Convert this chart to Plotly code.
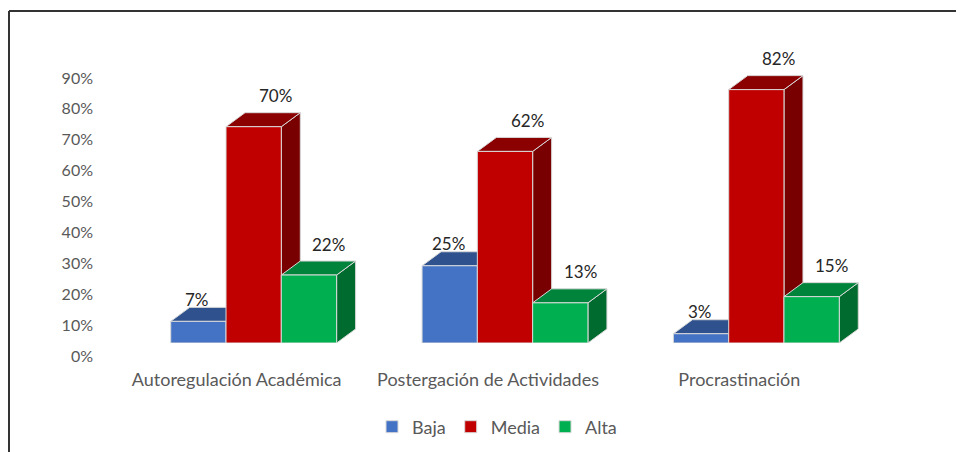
import plotly.graph_objects as go

categories = ["Autoregulación Académica", "Postergación de Actividades", "Procrastinación"]
series_names = ["Baja", "Media", "Alta"]
baja = [0.07, 0.25, 0.03]
media = [0.70, 0.62, 0.82]
alta = [0.22, 0.13, 0.15]
y_ticks = [0.0, 0.1, 0.2, 0.3, 0.4, 0.5, 0.6, 0.7, 0.8, 0.9]

# front, top, side colours per series
colors = {
    "Baja": ("#4472C4", "#2F528F", "#264478"),
    "Media": ("#C00000", "#8B0000", "#780000"),
    "Alta": ("#00B050", "#00843C", "#006B2E"),
}
# label offsets (px) per series, like the Excel data labels
label_dx = {"Baja": -1, "Media": 22, "Alta": 20}
label_dy = {"Baja": 8, "Media": 17, "Alta": 17}

# the page body has an 8px margin, so the figure is drawn 8px smaller
OFF = 8
W, H = 964 - OFF, 452 - OFF
L, R, T, B = 128 - OFF, 82, 40 - OFF, 109
plot_w = W - L - R
plot_h = H - T - B
px_per_x = plot_w / 3
px_per_y = 309
y_top = plot_h / px_per_y

depth_x = 19 / px_per_x
depth_y = 14 / px_per_y
bar_w = 0.22
FONT = "Lato"


def px_x(p):
    return (p - OFF - L) / plot_w


def px_y(p):
    return (H - B - (p - OFF)) / plot_h


fig = go.Figure()
shapes = []
annotations = []
xs = list(range(len(categories)))

for k, (name, vals) in enumerate(zip(series_names, [baja, media, alta])):
    front, top, side = colors[name]
    offset = -1.5 * bar_w + k * bar_w
    fig.add_trace(go.Bar(
        x=xs, y=vals, name=name, width=bar_w, offset=offset,
        marker=dict(color=front, line=dict(color="#D9D9D9", width=1)),
        hoverinfo="skip",
    ))

# depth faces, drawn group by group, left to right, under the front faces
for i in xs:
    for k, (name, vals) in enumerate(zip(series_names, [baja, media, alta])):
        front, top, side = colors[name]
        v = vals[i]
        x0 = i - 1.5 * bar_w + k * bar_w
        x1 = x0 + bar_w
        side_path = (f"M{x1},0 L{x1},{v} L{x1 + depth_x},{v + depth_y} "
                     f"L{x1 + depth_x},{depth_y} Z")
        top_path = (f"M{x0},{v} L{x1},{v} L{x1 + depth_x},{v + depth_y} "
                    f"L{x0 + depth_x},{v + depth_y} Z")
        for path, col in ((side_path, side), (top_path, top)):
            shapes.append(dict(type="path", path=path, xref="x", yref="y",
                               fillcolor=col, layer="below",
                               line=dict(color="#D9D9D9", width=1)))
        annotations.append(dict(
            x=(x0 + x1) / 2, y=v + depth_y, xref="x", yref="y",
            text=f"{round(v * 100)}%", showarrow=False,
            xshift=label_dx[name], yshift=label_dy[name], yanchor="middle",
            font=dict(family=FONT, size=17, color="#262626"),
        ))

# chart frame (top and left edges visible in the crop)
shapes.append(dict(type="line", xref="paper", yref="paper",
                   x0=px_x(9), x1=px_x(970), y0=px_y(11), y1=px_y(11),
                   line=dict(color="#333333", width=2)))
shapes.append(dict(type="line", xref="paper", yref="paper",
                   x0=px_x(9), x1=px_x(9), y0=px_y(11), y1=px_y(460),
                   line=dict(color="#333333", width=2)))

fig.update_layout(
    width=W, height=H,
    margin=dict(l=L, r=R, t=T, b=B, autoexpand=False),
    paper_bgcolor="white", plot_bgcolor="white",
    barmode="overlay",
    shapes=shapes, annotations=annotations,
    font=dict(family=FONT, size=16, color="#595959"),
    showlegend=True,
    legend=dict(orientation="h", x=px_x(497), xanchor="center",
                y=px_y(427), yanchor="middle",
                font=dict(family=FONT, size=18, color="#595959")),
    xaxis=dict(range=[-0.5, 2.5], tickvals=xs, ticktext=categories,
               tickfont=dict(size=18), automargin=False,
               showgrid=False, zeroline=False, showline=False, ticks="",
               ticklabelshift=-17, ticklabelstandoff=24, fixedrange=True),
    yaxis=dict(range=[0, y_top], tickvals=y_ticks, tickformat=".0%",
               tickfont=dict(size=16), automargin=False,
               showgrid=False, zeroline=False, showline=False, ticks="",
               ticklabelshift=13, ticklabelstandoff=34, fixedrange=True),
)

fig.write_html("out.html")
